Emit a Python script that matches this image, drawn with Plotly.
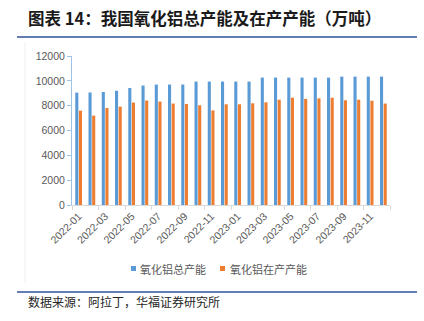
import plotly.graph_objects as go

months = ["2022-01", "2022-02", "2022-03", "2022-04", "2022-05", "2022-06",
          "2022-07", "2022-08", "2022-09", "2022-10", "2022-11", "2022-12",
          "2023-01", "2023-02", "2023-03", "2023-04", "2023-05", "2023-06",
          "2023-07", "2023-08", "2023-09", "2023-10", "2023-11", "2023-12"]
total_capacity = [9050, 9060, 9100, 9200, 9420, 9620, 9700, 9700, 9700, 9940, 9940, 9940,
                  9940, 9940, 10260, 10260, 10260, 10260, 10260, 10260, 10340, 10340, 10340, 10340]
operating_capacity = [7600, 7200, 7810, 7920, 8250, 8410, 8330, 8170, 8140, 8030, 7620, 8110,
                      8110, 8190, 8270, 8480, 8640, 8540, 8590, 8640, 8430, 8480, 8400, 8170]
series_names = ["氧化铝总产能", "氧化铝在产产能"]
title_text = "图表 14：我国氧化铝总产能及在产产能（万吨）"
source_text = "数据来源：阿拉丁，华福证券研究所"

BLUE = "#5B9BD5"
ORANGE = "#ED7D31"
W, H = 424, 321
L, R, T, B = 72, 34, 56, 116
PW = W - L - R
PH = H - T - B


def px_x(p):
    return (p - L) / PW


def px_y(p):
    return (H - B - p) / PH


idx = list(range(len(months)))

fig = go.Figure()
fig.add_trace(go.Bar(x=idx, y=total_capacity, name=series_names[0],
                     marker=dict(color=BLUE, line=dict(width=0))))
fig.add_trace(go.Bar(x=idx, y=operating_capacity, name=series_names[1],
                     marker=dict(color=ORANGE, line=dict(width=0))))

tick_font = dict(family="Liberation Sans, Arial, sans-serif", size=10.5, color="#595959")
cjk = "Noto Sans CJK SC"

fig.update_layout(
    width=W, height=H,
    margin=dict(l=L, r=R, t=T, b=B, pad=0),
    paper_bgcolor="white", plot_bgcolor="white",
    barmode="group", bargap=0.45, bargroupgap=0.15,
    showlegend=False,
    xaxis=dict(
        range=[-0.5, len(months) - 0.5],
        tickmode="array",
        tickvals=idx[::2],
        ticktext=months[::2],
        tickangle=-45,
        ticks="",
        tickfont=tick_font,
        showline=True, linecolor="#D9D9D9", linewidth=1,
        showgrid=False, zeroline=False,
        minor=dict(ticks="outside", ticklen=4, tickcolor="#D9D9D9",
                   tickmode="array", tickvals=[i - 0.5 for i in idx[::2]] + [len(months) - 0.5],
                   showgrid=False),
    ),
    yaxis=dict(
        range=[0, 12000], dtick=2000, tick0=0, tickformat="d",
        ticks="outside", ticklen=4, tickcolor="#9DC3E6", tickwidth=1,
        showline=True, linecolor="#9DC3E6", linewidth=1,
        showgrid=False, zeroline=False,
        tickfont=tick_font,
    ),
)

shapes = [
    dict(type="line", xref="paper", yref="paper", x0=px_x(17), x1=px_x(417),
         y0=px_y(37), y1=px_y(37), line=dict(color="#2F5597", width=1.5)),
    dict(type="line", xref="paper", yref="paper", x0=px_x(17), x1=px_x(417),
         y0=px_y(292), y1=px_y(292), line=dict(color="#2F5597", width=1.5)),
    dict(type="line", xref="paper", yref="paper", x0=px_x(25), x1=px_x(25),
         y0=px_y(42), y1=px_y(283), line=dict(color="#EFEFEF", width=1)),
    dict(type="rect", xref="paper", yref="paper", x0=px_x(131), x1=px_x(136),
         y0=px_y(271), y1=px_y(266), fillcolor=BLUE, line=dict(width=0)),
    dict(type="rect", xref="paper", yref="paper", x0=px_x(220), x1=px_x(225),
         y0=px_y(271), y1=px_y(266), fillcolor=ORANGE, line=dict(width=0)),
]

annotations = [
    dict(text="<b>" + title_text + "</b>", xref="paper", yref="paper",
         x=px_x(26), y=px_y(18), xanchor="left", yanchor="middle", showarrow=False,
         font=dict(family=cjk, size=16.5, color="#1a1a1a")),
    dict(text=source_text, xref="paper", yref="paper",
         x=px_x(26), y=px_y(301), xanchor="left", yanchor="middle", showarrow=False,
         font=dict(family=cjk, size=12, color="#262626")),
    dict(text=series_names[0], xref="paper", yref="paper",
         x=px_x(138), y=px_y(268.5), xanchor="left", yanchor="middle", showarrow=False,
         font=dict(family=cjk, size=11, color="#595959")),
    dict(text=series_names[1], xref="paper", yref="paper",
         x=px_x(228), y=px_y(268.5), xanchor="left", yanchor="middle", showarrow=False,
         font=dict(family=cjk, size=11, color="#595959")),
]

fig.update_layout(shapes=shapes, annotations=annotations)
fig.write_html("out.html")
